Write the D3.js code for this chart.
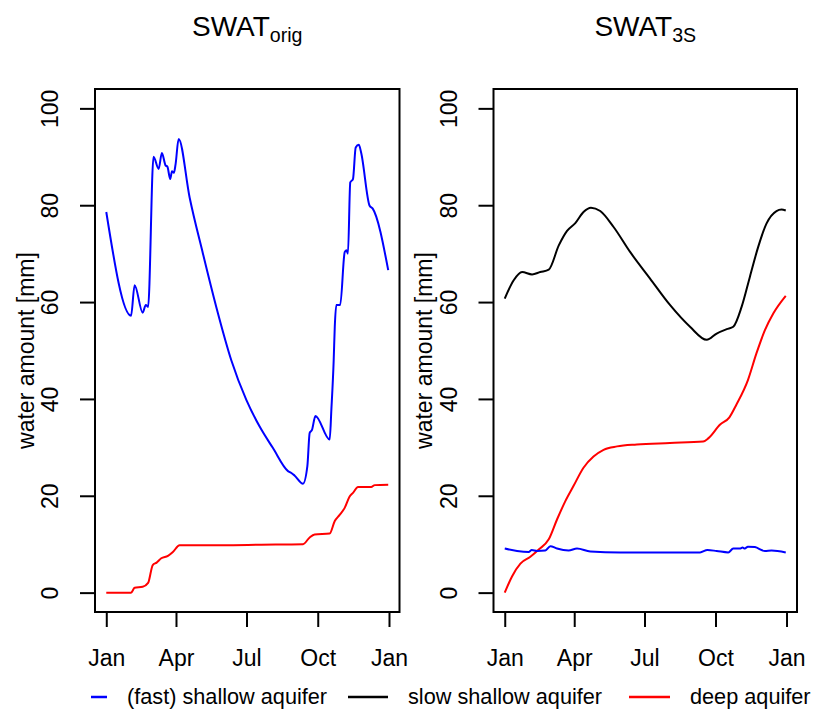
<!DOCTYPE html>
<html>
<head>
<meta charset="utf-8">
<script src="https://cdn.jsdelivr.net/npm/d3@7"></script>
<style>
  html, body { margin: 0; padding: 0; background: #fff; }
  svg text { font-family: "Liberation Sans", Arial, Helvetica, sans-serif; fill: #000; }
</style>
</head>
<body>
<svg id="chart" width="813" height="711"></svg>
<script>
// Daily storage in three aquifer compartments over one year (day of year, mm)

// SWAT_orig: (fast) shallow aquifer
const origShallowDays = [0, 32, 36.6, 47, 51, 54, 61, 67.6, 71.8, 76.6, 78.8, 82.6, 84.8, 87.3, 89.5, 93.4,
  107.6, 124.8, 142, 161.4, 180.8, 198, 215, 234.6, 239, 243, 254, 259.6, 262.6, 265.6, 270,
  288.4, 290.6, 293.6, 295, 297, 302, 307.8, 310, 312, 315, 318.5, 322, 326, 329, 340, 344, 364];
const origShallowVals = [78.6, 57.2, 63.5, 57.8, 59.4, 59, 90, 87.5, 90.8, 88.2, 88, 85.4, 87, 86.7, 88.5, 93.7,
  81.6, 70, 59, 48, 39.8, 34.3, 29.9, 25.1, 24.7, 24.2, 22.5, 26.1, 33, 33.6, 36.5,
  31.6, 37.8, 48, 54.9, 59.4, 59.4, 70.3, 70.7, 70, 84.7, 85.4, 91.9, 92.5, 90.9, 79.9, 79.3, 66.6];

// SWAT_orig: deep aquifer
const origDeepDays = [0, 32, 36.6, 47, 54, 60, 65, 71, 79.6, 86, 94.7, 150, 200, 254, 262.6, 269, 288.4,
  295, 301, 307.8, 314, 318.5, 325, 342, 346.6, 364];
const origDeepVals = [0, 0, 1, 1.2, 2, 5.7, 6.2, 7.1, 7.6, 8.4, 9.8, 9.8, 9.9, 10, 11.4, 12, 12.2,
  14.8, 16, 17.5, 19.8, 20.6, 21.8, 21.8, 22.2, 22.3];

// SWAT_3S: fast shallow aquifer
const s3FastDays = [0, 16, 31, 35, 42, 52.6, 59, 67.7, 82.7, 93.6, 110.8, 149.6, 200, 253, 262.5, 274.5,
  289.5, 296, 304.6, 308, 311, 315, 324, 337, 345.6, 364];
const s3FastVals = [9.1, 8.6, 8.4, 8.8, 8.6, 8.7, 9.6, 9.1, 8.7, 9.1, 8.5, 8.3, 8.3, 8.3, 8.8, 8.6,
  8.3, 9.1, 9.1, 9.3, 9.1, 9.5, 9.4, 8.6, 8.7, 8.3];

// SWAT_3S: slow shallow aquifer
const s3SlowDays = [0, 11.6, 22.5, 35.4, 46, 57, 70, 80.7, 91.4, 102, 111.7, 123.7, 141, 162.6, 188, 214,
  240, 261.6, 274.5, 287.5, 296, 306.8, 317.5, 328.3, 339, 352, 358.5, 364];
const s3SlowVals = [60.7, 64.5, 66.2, 65.7, 66.2, 66.7, 71.7, 74.7, 76.3, 78.6, 79.5, 78.8, 75.5, 70.3, 64.9, 59.4,
  54.9, 52.2, 53.5, 54.4, 54.9, 59, 65.2, 71.4, 76.2, 78.8, 79.1, 78.9];

// SWAT_3S: deep aquifer
const s3DeepDays = [0, 9.6, 20.3, 33.2, 44, 57, 67.7, 78.5, 89, 102, 115, 128, 145.5, 171, 214, 257, 264,
  279, 291, 300, 315, 326, 337, 348, 364];
const s3DeepVals = [0, 3.4, 6, 7.4, 8.9, 11, 15.1, 18.9, 22, 25.8, 28.1, 29.5, 30.2, 30.6, 30.9, 31.2, 31.9,
  34.7, 36.2, 38.8, 43.9, 49.4, 54.2, 57.7, 61.3];

const monthTicks = [0, 3, 6, 9, 12];
const monthLabels = ["Jan", "Apr", "Jul", "Oct", "Jan"];
const yTicks = [0, 20, 40, 60, 80, 100];

const seriesNames = ["(fast) shallow aquifer", "slow shallow aquifer", "deep aquifer"];
const seriesColors = ["#0000ff", "#000000", "#ff0000"];

const panelTitles = [["SWAT", "orig"], ["SWAT", "3S"]];

const year = 2001;
const t0 = new Date(year, 0, 1);
const toDate = d => new Date(t0.getTime() + d * 864e5);
const zip = (days, vals) => days.map((d, i) => ({ date: toDate(d), v: vals[i] }));

const panels = [
  { title: panelTitles[0], left: 95, right: 399.5,
    series: [ { data: zip(origShallowDays, origShallowVals), color: seriesColors[0] },
              { data: zip(origDeepDays, origDeepVals), color: seriesColors[2] } ] },
  { title: panelTitles[1], left: 493.5, right: 797,
    series: [ { data: zip(s3SlowDays, s3SlowVals), color: seriesColors[1] },
              { data: zip(s3DeepDays, s3DeepVals), color: seriesColors[2] },
              { data: zip(s3FastDays, s3FastVals), color: seriesColors[0] } ] }
];

const plotTop = 89, plotBottom = 612;
const svg = d3.select("#chart");

// y range with the usual 4% padding on each side of 0..100
const y = d3.scaleLinear().domain([-4, 104]).range([plotBottom, plotTop]);

panels.forEach(p => {
  const span = 364;
  const x = d3.scaleTime()
    .domain([toDate(-0.04 * span), toDate(span * 1.04)])
    .range([p.left, p.right]);

  const g = svg.append("g");

  const line = d3.line()
    .x(d => x(d.date))
    .y(d => y(d.v))
    .curve(d3.curveMonotoneX);

  p.series.forEach(s => {
    g.append("path")
      .datum(s.data)
      .attr("fill", "none")
      .attr("stroke", s.color)
      .attr("stroke-width", 2)
      .attr("stroke-linejoin", "round")
      .attr("d", line);
  });

  // frame
  g.append("rect")
    .attr("x", p.left).attr("y", plotTop)
    .attr("width", p.right - p.left).attr("height", plotBottom - plotTop)
    .attr("fill", "none").attr("stroke", "#000").attr("stroke-width", 2);

  // x axis
  const tickDates = monthTicks.map(m => new Date(year, m, 1));
  const xAxis = d3.axisBottom(x)
    .tickValues(tickDates)
    .tickFormat((d, i) => monthLabels[i])
    .tickSize(15).tickSizeOuter(0).tickPadding(23);
  const gx = g.append("g").attr("transform", `translate(0,${plotBottom})`).call(xAxis);
  gx.select(".domain").remove();
  gx.selectAll(".tick line").attr("stroke", "#000").attr("stroke-width", 2);
  gx.selectAll(".tick text").attr("font-size", 23).attr("font-family", null);

  // y axis
  const yAxis = d3.axisLeft(y).tickValues(yTicks).tickSize(15).tickSizeOuter(0);
  const gy = g.append("g").attr("transform", `translate(${p.left},0)`).call(yAxis);
  gy.select(".domain").remove();
  gy.selectAll(".tick line").attr("stroke", "#000").attr("stroke-width", 2);
  gy.selectAll(".tick text")
    .attr("font-size", 23).attr("font-family", null)
    .attr("x", null).attr("dy", null)
    .attr("text-anchor", "middle")
    .attr("transform", "translate(-37,0) rotate(-90)");

  // y label
  svg.append("text")
    .attr("transform", `translate(${p.left - 61.5},${(plotTop + plotBottom) / 2}) rotate(-90)`)
    .attr("text-anchor", "middle")
    .attr("font-size", 23)
    .text("water amount [mm]");

  // title with subscript
  const t = svg.append("text")
    .attr("x", (p.left + p.right) / 2).attr("y", 36)
    .attr("text-anchor", "middle")
    .attr("font-size", 28);
  t.append("tspan").text(p.title[0]);
  t.append("tspan").attr("font-size", 19.6).attr("dy", 6).text(p.title[1]);
});

// legend
const legendItems = [
  { name: seriesNames[0], color: seriesColors[0], x1: 91, x2: 107, tx: 127 },
  { name: seriesNames[1], color: seriesColors[1], x1: 348, x2: 388, tx: 408 },
  { name: seriesNames[2], color: seriesColors[2], x1: 629, x2: 670, tx: 690 }
];
const lg = svg.append("g");
legendItems.forEach(it => {
  lg.append("line")
    .attr("x1", it.x1).attr("x2", it.x2).attr("y1", 697).attr("y2", 697)
    .attr("stroke", it.color).attr("stroke-width", 2.5);
  lg.append("text")
    .attr("x", it.tx).attr("y", 704)
    .attr("font-size", 21.7)
    .text(it.name);
});
</script>
</body>
</html>
